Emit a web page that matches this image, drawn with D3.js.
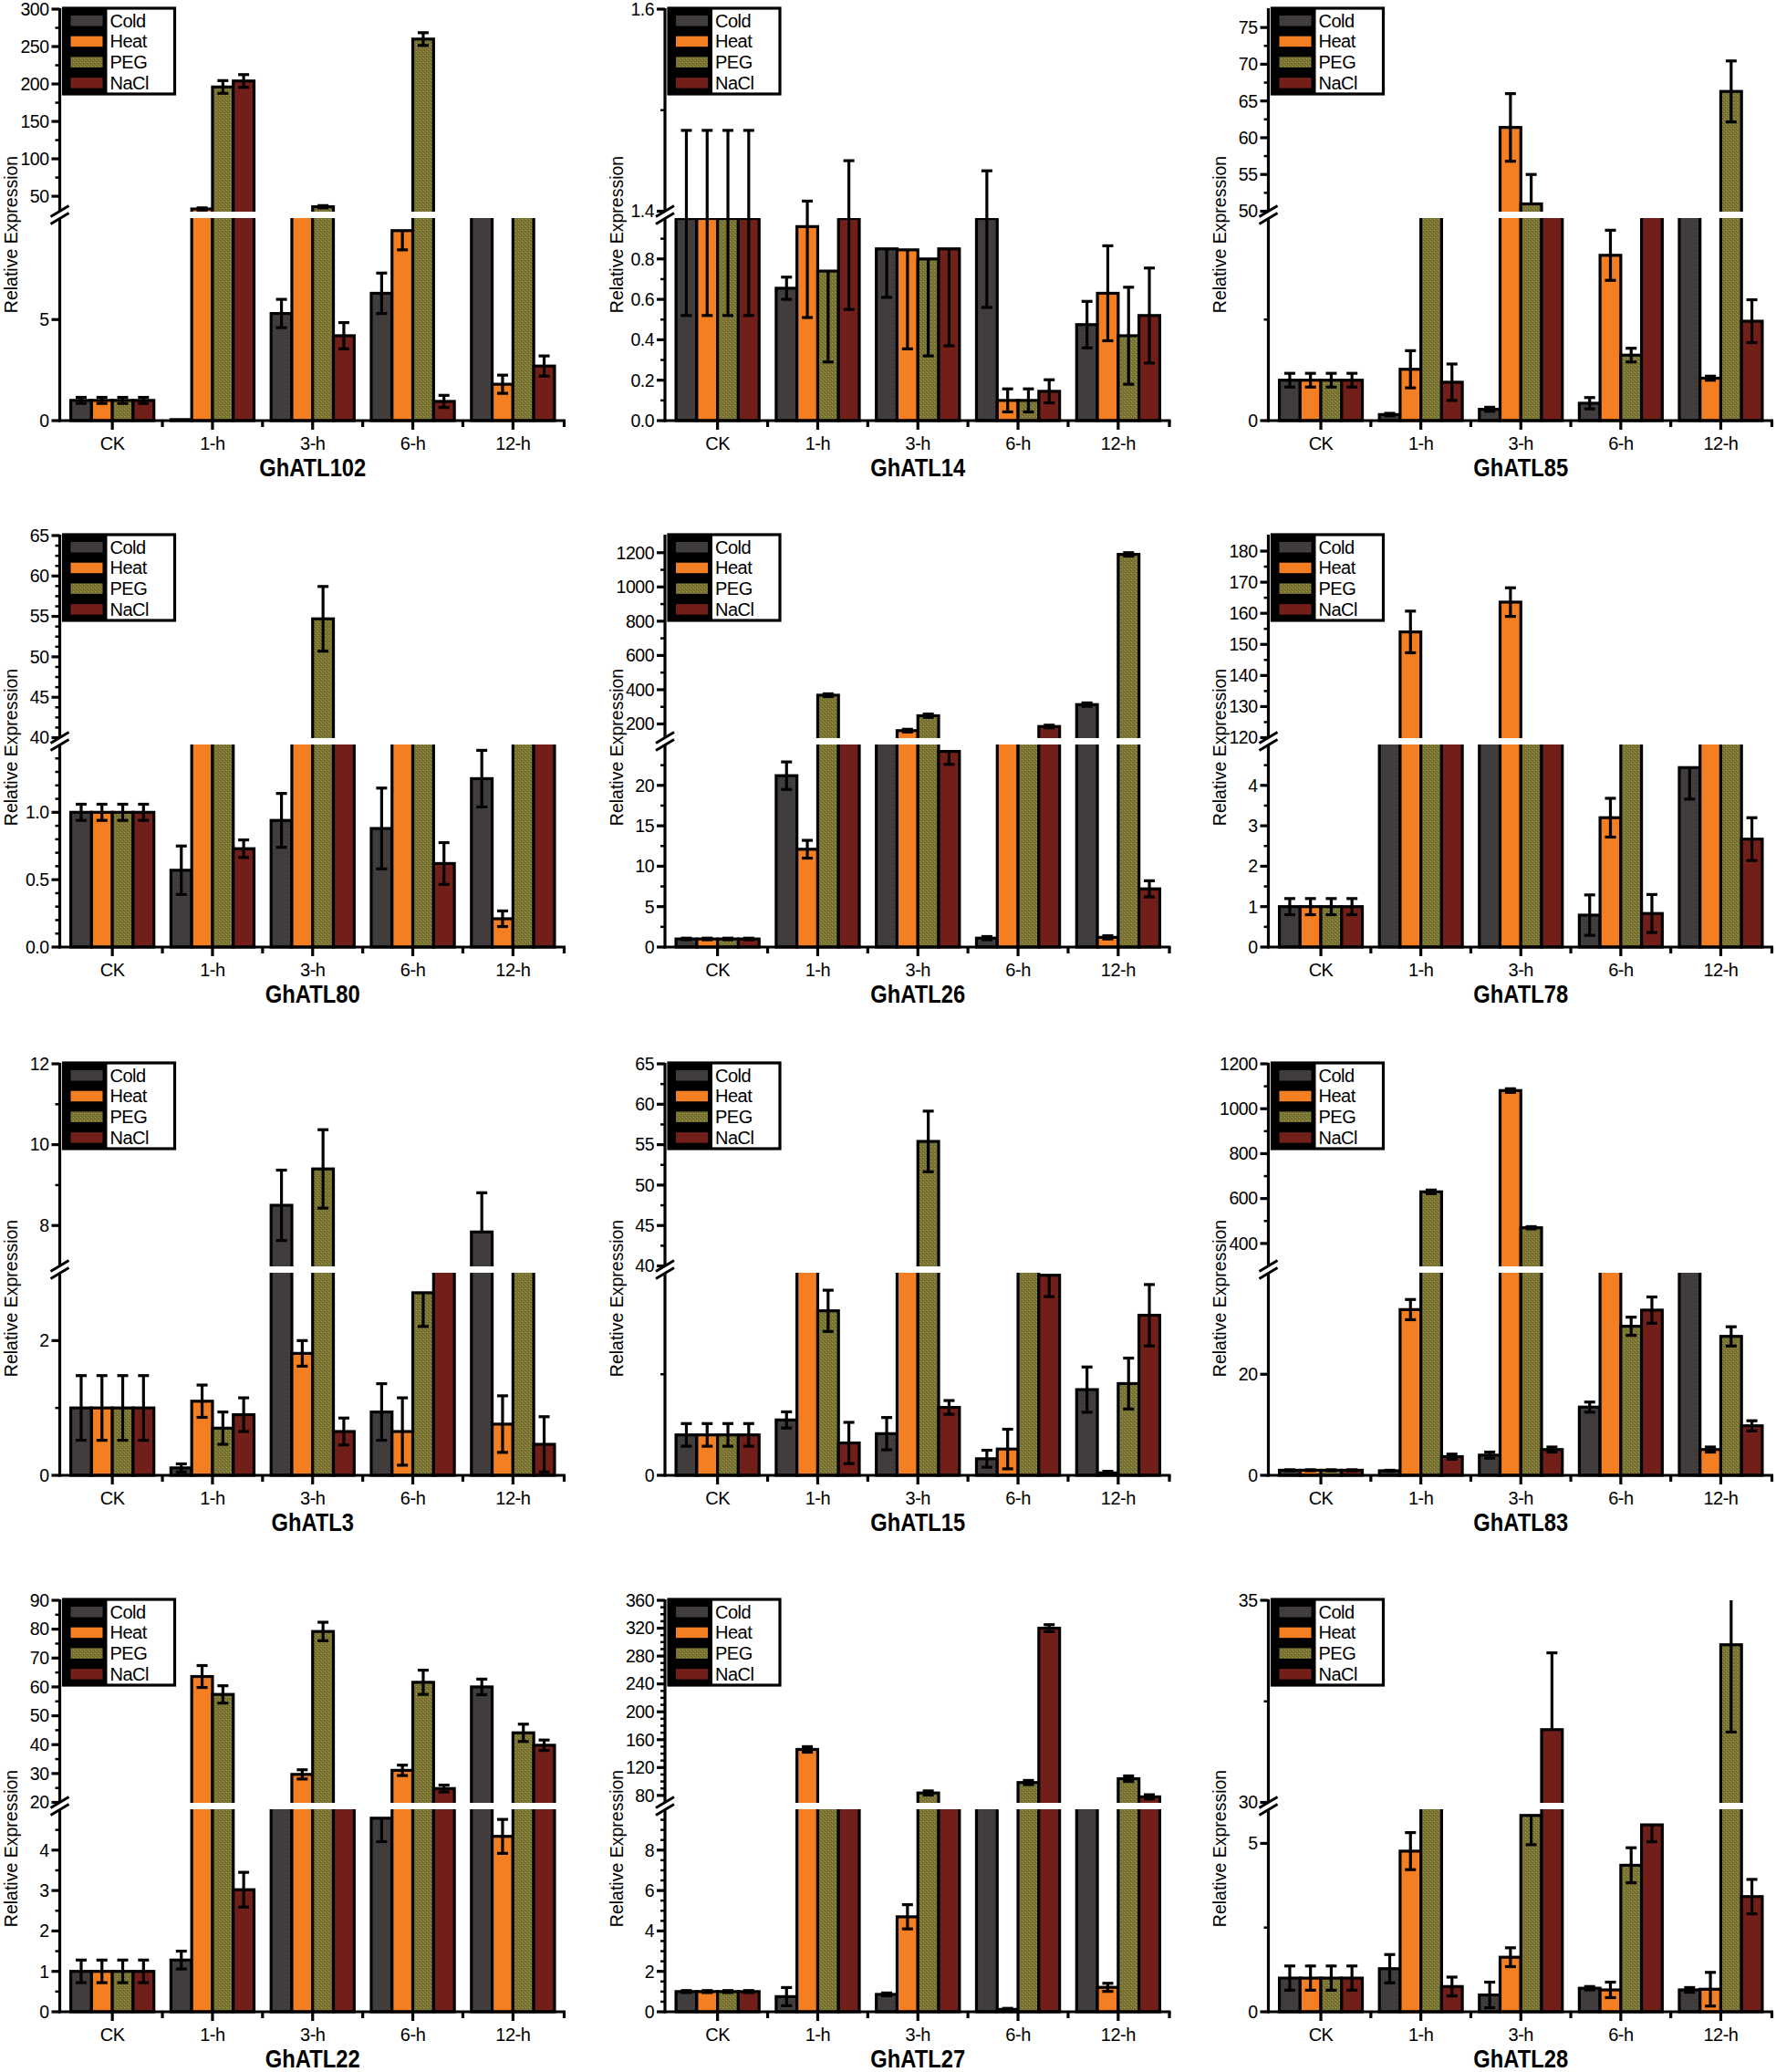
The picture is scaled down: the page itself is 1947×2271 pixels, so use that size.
<!DOCTYPE html>
<html><head><meta charset="utf-8">
<script src="https://cdn.jsdelivr.net/npm/d3@7"></script>
<style>body{margin:0;background:#fff}text{font-family:"Liberation Sans",Arial,sans-serif;fill:#000}</style>
</head><body>
<svg id="c" width="1947" height="2271"></svg>
<script>
const categories = ["CK","1-h","3-h","6-h","12-h"];
const seriesNames = ["Cold","Heat","PEG","NaCl"];
const seriesColors = ["#3f3b3b","#f47f22","#7d7731","#731f19"];

// values: rows = Cold, Heat, PEG, NaCl ; columns = CK, 1-h, 3-h, 6-h, 12-h
const atl102Mean = [[1.0,0.05,5.3,6.3,20],[1.0,33,20,9.4,1.8],[1.0,196,36,260,20],[1.0,204,4.2,0.95,2.7]];
const atl102Err  = [[0.15,0,0.7,1.0,0],[0.15,1.5,0,0.95,0.45],[0.15,8.5,1.5,8.5,0],[0.15,8.5,0.65,0.3,0.5]];
const atl14Mean = [[1.0,0.655,0.85,1.0,0.475],[1.0,0.96,0.845,0.10,0.63],[1.0,0.74,0.80,0.10,0.42],[1.0,1.0,0.85,0.145,0.52]];
const atl14Err  = [[0.48,0.055,0.24,0.44,0.115],[0.48,0.45,0.49,0.057,0.235],[0.48,0.45,0.48,0.057,0.24],[0.48,0.45,0.48,0.057,0.235]];
const atl85Mean = [[1.0,0.15,0.28,0.43,20],[1.0,1.27,61.4,4.09,1.05],[1.0,20,51,1.62,66.3],[1.0,0.95,20,20,2.46]];
const atl85Err  = [[0.17,0.03,0.05,0.14,0],[0.17,0.46,4.6,0.62,0.05],[0.17,0,4,0.17,4.15],[0.17,0.45,0,0,0.53]];
const atl80Mean = [[1.0,0.57,0.94,0.88,1.25],[1.0,10,10,10,0.21],[1.0,10,54.7,10,10],[1.0,0.73,10,0.62,10]];
const atl80Err  = [[0.06,0.18,0.2,0.3,0.21],[0.06,0,0,0,0.058],[0.06,0,4,0,0],[0.06,0.065,0,0.155,0]];
const atl26Mean = [[1.0,21.2,60,1.1,313],[1.0,12.1,161,60,1.2],[1.0,368,248,60,1190],[1.0,60,24.2,185,7.2]];
const atl26Err  = [[0.1,1.7,0,0.2,10],[0.1,1.1,8,0,0.2],[0.1,8,10,0,10],[0.1,0,1.6,8,1.0]];
const atl78Mean = [[1.0,60,60,0.79,4.44],[1.0,154,163.6,3.2,60],[1.0,60,60,60,60],[1.0,60,60,0.83,2.67]];
const atl78Err  = [[0.2,0,0,0.5,0.78],[0.2,6.7,4.6,0.48,0],[0.2,0,0,0,0],[0.2,0,0,0.47,0.53]];
const atl3Mean = [[1.0,0.11,8.5,0.94,7.84],[1.0,1.1,1.81,0.65,0.76],[1.0,0.7,9.4,2.71,5],[1.0,0.9,0.65,5,0.46]];
const atl3Err  = [[0.48,0.06,0.87,0.42,0.97],[0.48,0.24,0.19,0.5,0.42],[0.48,0.24,0.97,0.5,0],[0.48,0.25,0.2,0,0.41]];
const atl15Mean = [[1.0,1.37,1.03,0.41,2.12],[1.0,20,20,0.65,0.06],[1.0,4.07,55.4,20,2.27],[1.0,0.8,1.68,4.95,3.96]];
const atl15Err  = [[0.28,0.2,0.4,0.21,0.56],[0.28,0,0,0.49,0.04],[0.28,0.51,3.75,0,0.63],[0.28,0.51,0.17,0.53,0.76]];
const atl83Mean = [[1.0,0.9,4.0,13.5,150],[1.0,32.8,1081,150,5.1],[1.0,630,470,29.5,27.5],[1.0,3.7,5.1,32.7,9.8]];
const atl83Err  = [[0.1,0.1,0.6,1.0,0],[0.1,2.0,8,0,0.5],[0.1,8,5,1.8,1.9],[0.1,0.5,0.5,2.6,1.0]];
const atl22Mean = [[1.0,1.28,12,4.79,60],[1.0,63.6,29.7,31.1,4.34],[1.0,57.4,79.2,61.6,44.1],[1.0,3.02,12,24.8,39.8]];
const atl22Err  = [[0.28,0.22,0,0.58,2.7],[0.28,3.8,1.6,1.8,0.42],[0.28,3.0,3.2,4.2,3.0],[0.28,0.43,0,1.2,1.8]];
const atl27Mean = [[1.0,0.75,0.86,40,40],[1.0,146,4.7,0.12,1.21],[1.0,40,83.5,98.5,104],[1.0,40,40,320,78]];
const atl27Err  = [[0.05,0.45,0.07,0,0],[0.05,4,0.6,0.05,0.2],[0.05,0,3,3,4],[0.05,0,0,5,3]];
const atl28Mean = [[1.0,1.28,0.5,0.7,0.65],[1.0,4.77,1.62,0.65,0.67],[1.0,15,5.83,4.35,33.9],[1.0,0.75,31.8,5.55,3.42]];
const atl28Err  = [[0.36,0.42,0.38,0.05,0.07],[0.36,0.55,0.28,0.23,0.5],[0.36,0,0.87,0.52,2.16],[0.36,0.28,1.9,0.5,0.51]];

// broken axis: lower [0,max], upper [min,max]; tick labels
const atl102Axis = {low:[0,10], up:[30,300], lowTicks:["0","5"], upTicks:["50","100","150","200","250","300"], lowMinor:null, upMinor:25};
const atl14Axis  = {low:[0,1.0], up:[1.4,1.6], lowTicks:["0.0","0.2","0.4","0.6","0.8"], upTicks:["1.4","1.6"], lowMinor:0.1, upMinor:0.1};
const atl85Axis  = {low:[0,5], up:[50,77.5], lowTicks:["0"], upTicks:["50","55","60","65","70","75"], lowMinor:2.5, upMinor:2.5};
const atl80Axis  = {low:[0,1.5], up:[40,65], lowTicks:["0.0","0.5","1.0"], upTicks:["40","45","50","55","60","65"], lowMinor:0.1, upMinor:1.25};
const atl26Axis  = {low:[0,25], up:[120,1300], lowTicks:["0","5","10","15","20"], upTicks:["200","400","600","800","1000","1200"], lowMinor:2.5, upMinor:100};
const atl78Axis  = {low:[0,5], up:[120,185], lowTicks:["0","1","2","3","4"], upTicks:["120","130","140","150","160","170","180"], lowMinor:0.5, upMinor:5};
const atl3Axis   = {low:[0,3], up:[7,12], lowTicks:["0","2"], upTicks:["8","10","12"], lowMinor:1, upMinor:1};
const atl15Axis  = {low:[0,5], up:[40,65], lowTicks:["0"], upTicks:["40","45","50","55","60","65"], lowMinor:2.5, upMinor:2.5};
const atl83Axis  = {low:[0,40], up:[300,1200], lowTicks:["0","20"], upTicks:["400","600","800","1000","1200"], lowMinor:null, upMinor:100};
const atl22Axis  = {low:[0,5], up:[20,90], lowTicks:["0","1","2","3","4"], upTicks:["20","30","40","50","60","70","80","90"], lowMinor:0.5, upMinor:5};
const atl27Axis  = {low:[0,10], up:[70,360], lowTicks:["0","2","4","6","8"], upTicks:["80","120","160","200","240","280","320","360"], lowMinor:0.5, upMinor:10};
const atl28Axis  = {low:[0,6], up:[30,35], lowTicks:["0","5"], upTicks:["30","35"], lowMinor:2.5, upMinor:2.5};

const panels = [
  {name:"GhATL102", mean:atl102Mean, err:atl102Err, axis:atl102Axis, r:0, c:0},
  {name:"GhATL14",  mean:atl14Mean,  err:atl14Err,  axis:atl14Axis,  r:0, c:1},
  {name:"GhATL85",  mean:atl85Mean,  err:atl85Err,  axis:atl85Axis,  r:0, c:2},
  {name:"GhATL80",  mean:atl80Mean,  err:atl80Err,  axis:atl80Axis,  r:1, c:0},
  {name:"GhATL26",  mean:atl26Mean,  err:atl26Err,  axis:atl26Axis,  r:1, c:1},
  {name:"GhATL78",  mean:atl78Mean,  err:atl78Err,  axis:atl78Axis,  r:1, c:2},
  {name:"GhATL3",   mean:atl3Mean,   err:atl3Err,   axis:atl3Axis,   r:2, c:0},
  {name:"GhATL15",  mean:atl15Mean,  err:atl15Err,  axis:atl15Axis,  r:2, c:1},
  {name:"GhATL83",  mean:atl83Mean,  err:atl83Err,  axis:atl83Axis,  r:2, c:2},
  {name:"GhATL22",  mean:atl22Mean,  err:atl22Err,  axis:atl22Axis,  r:3, c:0},
  {name:"GhATL27",  mean:atl27Mean,  err:atl27Err,  axis:atl27Axis,  r:3, c:1},
  {name:"GhATL28",  mean:atl28Mean,  err:atl28Err,  axis:atl28Axis,  r:3, c:2}
];

// layout
const rowTops = [10, 587, 1166, 1754];
const rowYLabel = [247, 232, 257, 272];
const colAxisX = [65.5, 729, 1390.5];
const colRight = [620, 1283.5, 1944];
const GAP_TOP = 221.5, GAP_BOT = 229.5, H = 451;
const LW = 3.2;

const svg = d3.select("#c");
svg.append("rect").attr("width",1947).attr("height",2271).attr("fill","#fff");
const defs = svg.append("defs");
function makeTex(id, base, dots){
  const p = defs.append("pattern").attr("id",id).attr("width",4).attr("height",4).attr("patternUnits","userSpaceOnUse");
  p.append("rect").attr("width",4).attr("height",4).attr("fill",base);
  dots.forEach(([x,y,c]) => p.append("rect").attr("x",x).attr("y",y).attr("width",1).attr("height",1).attr("fill",c));
}
makeTex("texCold", "#3f3b3b", [[0,0,"#514d4d"],[2,2,"#4a4646"]]);
makeTex("texPEG", "#7a7430", [[0,0,"#a4a06c"],[2,2,"#938e58"],[1,3,"#6a6526"],[3,1,"#6a6526"]]);
const fills = ["url(#texCold)", seriesColors[1], "url(#texPEG)", seriesColors[3]];

function addText(parent, x, y, str, size, opts={}){
  const sx = opts.sx ?? 1;
  let tr = `translate(${x},${y}) scale(${sx},1)`;
  if (opts.rotate) tr += ` rotate(${opts.rotate})`;
  return parent.append("text").attr("transform", tr)
    .attr("text-anchor", opts.anchor || "middle").attr("dy","0.35em")
    .style("font-size", size+"px").style("font-weight", opts.weight || "normal")
    .style("letter-spacing", opts.ls || "0px")
    .text(str);
}

function minorVals(dom, step, majors){
  if (!step) return [];
  const out = [];
  const start = Math.ceil(dom[0]/step - 1e-9)*step;
  for (let v = start; v <= dom[1] + 1e-9; v += step){
    const vv = Math.round(v*1e6)/1e6;
    if (Math.abs(vv-dom[0])<1e-9 || Math.abs(vv-dom[1])<1e-9) continue;
    if (majors.some(m => Math.abs(m-vv)<1e-9)) continue;
    out.push(vv);
  }
  return out;
}

panels.forEach(p => {
  const T = rowTops[p.r], ax = colAxisX[p.c], rx = colRight[p.c];
  const zero = T + H, mid = T + (GAP_TOP+GAP_BOT)/2;
  const A = p.axis;
  const g = svg.append("g");
  const x0 = d3.scaleBand().domain(categories).range([ax, rx]).paddingInner(0.17).paddingOuter(0.11);
  const x1 = d3.scaleBand().domain(seriesNames).range([0, x0.bandwidth()]);
  const yLow = d3.scaleLinear().domain(A.low).range([zero, T+GAP_BOT]);
  const yUp = d3.scaleLinear().domain(A.up).range([T+GAP_TOP, T]);
  const ymap = v => v <= A.low[1] ? yLow(Math.max(v, A.low[0])) : (v >= A.up[0] ? yUp(Math.min(v, A.up[1])) : null);

  // bars
  seriesNames.forEach((s, si) => {
    categories.forEach((c, ci) => {
      const v = p.mean[si][ci];
      const x = x0(c) + x1(s), w = x1.bandwidth();
      const top = v > A.low[1] ? mid : yLow(v);
      g.append("rect").attr("x", x).attr("y", top).attr("width", w).attr("height", Math.max(0, zero - top))
        .attr("fill", fills[si]).attr("stroke", "#000").attr("stroke-width", LW);
      if (v >= A.up[0]) {
        const ut = yUp(Math.min(v, A.up[1]));
        g.append("rect").attr("x", x).attr("y", ut).attr("width", w).attr("height", mid - ut)
          .attr("fill", fills[si]).attr("stroke", "#000").attr("stroke-width", LW);
      }
    });
  });
  // white gap band
  g.append("rect").attr("x", ax+2).attr("y", T+GAP_TOP+0.5).attr("width", rx-ax).attr("height", GAP_BOT-GAP_TOP-1).attr("fill","#fff");

  // error bars
  seriesNames.forEach((s, si) => {
    categories.forEach((c, ci) => {
      const v = p.mean[si][ci], e = p.err[si][ci];
      if (!e) return;
      const yv = ymap(v);
      if (yv === null) return;
      const cx = x0(c) + x1(s) + x1.bandwidth()/2;
      [v+e, v-e].forEach(end => {
        const ye = ymap(end);
        if (ye === null) return;
        g.append("line").attr("x1",cx).attr("x2",cx).attr("y1",yv).attr("y2",ye).attr("stroke","#000").attr("stroke-width",LW);
        if (end <= A.up[1]) g.append("line").attr("x1",cx-6).attr("x2",cx+6).attr("y1",ye).attr("y2",ye).attr("stroke","#000").attr("stroke-width",LW);
      });
    });
  });

  // y axis
  const ax_ = g.append("g").attr("stroke","#000").attr("stroke-width",LW);
  ax_.append("line").attr("x1",ax).attr("x2",ax).attr("y1",zero+1.5).attr("y2",T+GAP_BOT);
  ax_.append("line").attr("x1",ax).attr("x2",ax).attr("y1",T+GAP_TOP).attr("y2",T-1);
  // break marks
  [-4, 4].forEach(dy => {
    ax_.append("line").attr("x1",ax-10).attr("y1",mid+dy+6).attr("x2",ax+10).attr("y2",mid+dy-6).attr("stroke-width",3);
  });
  const lowT = A.lowTicks.map(Number), upT = A.upTicks.map(Number);
  lowT.forEach((v,i) => {
    const y = yLow(v);
    ax_.append("line").attr("x1",ax-9).attr("x2",ax).attr("y1",y).attr("y2",y);
    addText(g, ax-12, y, A.lowTicks[i], 19.5, {anchor:"end", ls:"-0.5px"});
  });
  upT.forEach((v,i) => {
    const y = yUp(v);
    ax_.append("line").attr("x1",ax-9).attr("x2",ax).attr("y1",y).attr("y2",y);
    addText(g, ax-12, y, A.upTicks[i], 19.5, {anchor:"end", ls:"-0.5px"});
  });
  minorVals(A.low, A.lowMinor, lowT).forEach(v => {
    const y = yLow(v);
    ax_.append("line").attr("x1",ax-5).attr("x2",ax).attr("y1",y).attr("y2",y).attr("stroke-width",2.5);
  });
  minorVals(A.up, A.upMinor, upT).forEach(v => {
    const y = yUp(v);
    ax_.append("line").attr("x1",ax-5).attr("x2",ax).attr("y1",y).attr("y2",y).attr("stroke-width",2.5);
  });

  // x axis
  ax_.append("line").attr("x1",ax-1.5).attr("x2",rx).attr("y1",zero).attr("y2",zero);
  categories.forEach((c, ci) => {
    const cx = x0(c) + x0.bandwidth()/2;
    ax_.append("line").attr("x1",cx).attr("x2",cx).attr("y1",zero).attr("y2",zero+10);
    const bx = ci < categories.length-1 ? (x0(c) + x0.bandwidth() + x0(categories[ci+1]))/2 : rx-1.5;
    ax_.append("line").attr("x1",bx).attr("x2",bx).attr("y1",zero).attr("y2",zero+7);
    addText(g, cx, zero+25, c, 20, {ls:"-0.5px"});
  });
  addText(g, (ax+rx)/2, zero+52, p.name, 27, {weight:"bold", sx:0.88});
  addText(g, ax-53, T+rowYLabel[p.r], "Relative Expression", 19.5, {rotate:-90});

  // legend
  const lx = ax+4, ly = T-1;
  const lg = g.append("g");
  lg.append("rect").attr("x",lx).attr("y",ly).attr("width",122).attr("height",94).attr("fill","#fff").attr("stroke","#000").attr("stroke-width",LW);
  lg.append("rect").attr("x",lx).attr("y",ly).attr("width",48).attr("height",94).attr("fill","#000");
  seriesNames.forEach((s, si) => {
    lg.append("rect").attr("x",lx+8).attr("y",ly+8+si*22.7).attr("width",35).attr("height",11.5).attr("fill",fills[si]);
    addText(lg, lx+51, ly+13.5+si*22.7, s, 20, {anchor:"start", ls:"-0.5px"});
  });
});
</script>
</body></html>
